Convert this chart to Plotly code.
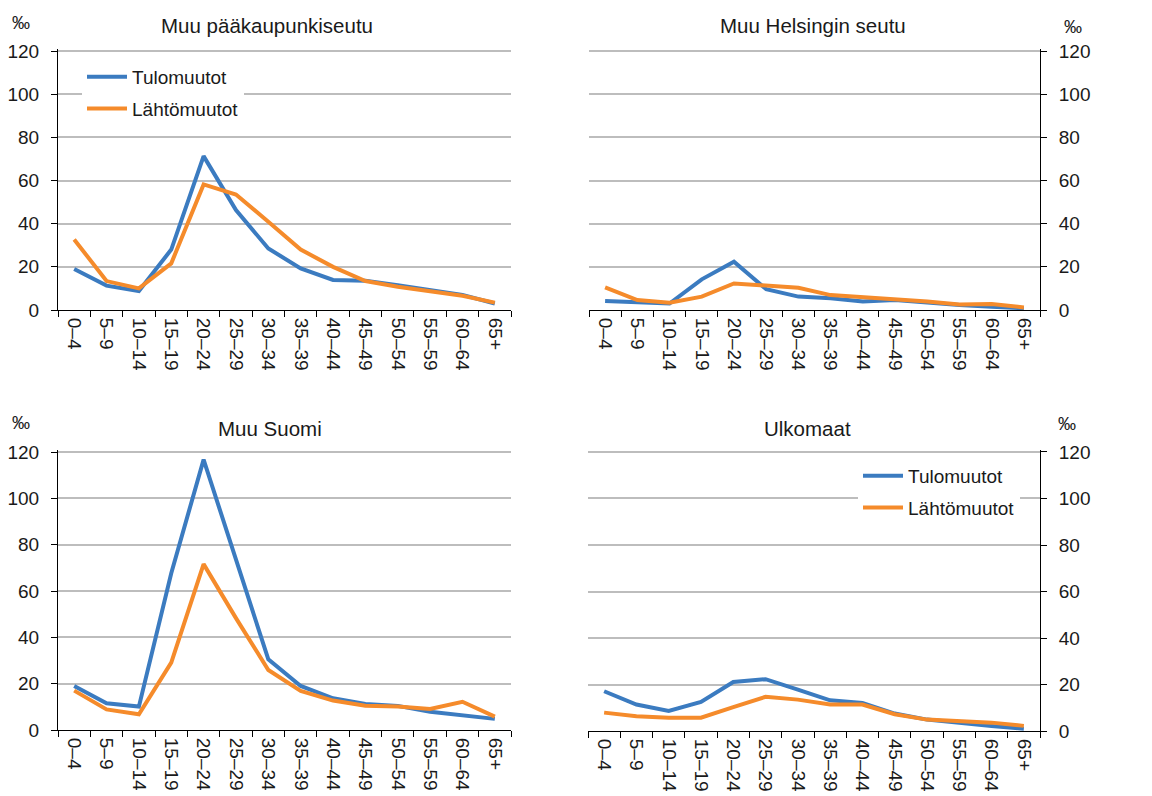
import plotly.graph_objects as go

categories = ["0\u20134", "5\u20139", "10\u201314", "15\u201319", "20\u201324", "25\u201329", "30\u201334",
              "35\u201339", "40\u201344", "45\u201349", "50\u201354", "55\u201359", "60\u201364", "65+"]

titles = ["Muu pääkaupunkiseutu", "Muu Helsingin seutu", "Muu Suomi", "Ulkomaat"]
series_names = ["Tulomuutot", "Lähtömuutot"]

# Muu pääkaupunkiseutu
paak_tulo = [19.0, 11.3, 8.8, 28.0, 71.3, 46.3, 28.5, 19.3, 13.9, 13.6, 11.5, 9.3, 7.0, 3.0]
paak_lahto = [32.7, 13.4, 10.0, 21.6, 58.2, 53.5, 40.9, 28.0, 20.0, 13.4, 10.8, 8.5, 6.6, 3.4]
# Muu Helsingin seutu
hel_tulo = [4.2, 3.5, 3.0, 14.2, 22.4, 9.6, 6.2, 5.4, 3.9, 4.6, 3.4, 2.3, 1.5, 0.8]
hel_lahto = [10.5, 4.6, 3.4, 6.2, 12.3, 11.3, 10.3, 6.9, 5.9, 5.1, 3.9, 2.6, 2.8, 1.2]
# Muu Suomi
suomi_tulo = [19.0, 11.5, 10.1, 67.7, 116.7, 73.5, 30.5, 19.0, 13.7, 11.2, 10.4, 7.9, 6.5, 4.8]
suomi_lahto = [17.0, 8.9, 6.8, 29.1, 71.6, 48.3, 25.9, 16.9, 12.7, 10.5, 10.1, 9.1, 12.2, 5.8]
# Ulkomaat
ulko_tulo = [17.1, 11.4, 8.6, 12.5, 21.1, 22.3, 17.8, 13.2, 12.1, 7.5, 4.9, 3.4, 2.2, 1.0]
ulko_lahto = [7.9, 6.3, 5.7, 5.7, 10.3, 14.7, 13.5, 11.4, 11.4, 7.2, 4.9, 4.2, 3.6, 2.2]

y_ticks = [0, 20, 40, 60, 80, 100, 120]
Y_TOP = 121  # range top slightly above the last tick so its gridline is drawn

BLUE = "#3B7BC0"
ORANGE = "#F58B2B"
FONT = "Liberation Sans, Arial, sans-serif"
TXT = "#1a1a1a"

W, H = 1152, 796

def px_x(p):
    return p / W

def px_y(p):
    return 1 - p / H

panels = [
    (paak_tulo, paak_lahto, "legend"),
    (hel_tulo, hel_lahto, None),
    (suomi_tulo, suomi_lahto, None),
    (ulko_tulo, ulko_lahto, "legend2"),
]

# plot area pixel boxes (left, right, pixel of value 120, pixel of value 0)
boxes = [
    (58, 511, 51, 310),
    (589, 1040, 51, 310),
    (58, 511, 452, 730),
    (588, 1040, 452, 731),
]

fig = go.Figure()

for i, (tulo, lahto, leg) in enumerate(panels):
    n = i + 1
    xa = "x" if n == 1 else f"x{n}"
    ya = "y" if n == 1 else f"y{n}"
    for name, vals, col, grp in [(series_names[0], tulo, BLUE, "a"), (series_names[1], lahto, ORANGE, "b")]:
        kw = dict(x=categories, y=vals, mode="lines", name=name,
                  line=dict(color=col, width=4), xaxis=xa, yaxis=ya,
                  showlegend=leg is not None, legendgroup=f"{grp}{n}", hoverinfo="skip")
        if leg is not None:
            kw["legend"] = leg
        fig.add_trace(go.Scatter(**kw))

layout = dict(
    width=W, height=H, autosize=False,
    margin=dict(l=0, r=0, t=0, b=0, pad=0, autoexpand=False),
    paper_bgcolor="white", plot_bgcolor="white",
    font=dict(family=FONT, size=19, color=TXT),
)

for i, (l, r, t120, b) in enumerate(boxes):
    n = i + 1
    xk = "xaxis" if n == 1 else f"xaxis{n}"
    yk = "yaxis" if n == 1 else f"yaxis{n}"
    xa = "x" if n == 1 else f"x{n}"
    ya = "y" if n == 1 else f"y{n}"
    right = n in (2, 4)
    pxu = (b - t120) / 120.0
    t = b - Y_TOP * pxu
    layout[xk] = dict(
        domain=[px_x(l), px_x(r)], anchor=ya, type="category",
        categoryorder="array", categoryarray=categories,
        range=[-0.5, len(categories) - 0.5], automargin=False,
        showline=True, linecolor="black", linewidth=1,
        ticks="outside", tickson="boundaries", ticklen=6, tickcolor="black",
        tickangle=90, showgrid=False, zeroline=False, ticklabelstandoff=3,
        tickfont=dict(family=FONT, size=19, color=TXT),
    )
    layout[yk] = dict(
        domain=[px_y(b), px_y(t)], anchor=xa, range=[0, Y_TOP], automargin=False,
        tickvals=y_ticks, side="right" if right else "left",
        showline=True, linecolor="black", linewidth=1,
        ticks="outside", ticklen=6, tickcolor="black",
        ticklabelstandoff=8,
        showgrid=True, gridcolor="#bdbdbd", gridwidth=2, zeroline=False,
        tickfont=dict(family=FONT, size=19, color=TXT),
    )

legend_common = dict(
    bgcolor="white", borderwidth=0, font=dict(family=FONT, size=19, color=TXT),
    traceorder="grouped", tracegroupgap=4, itemwidth=40,
    xanchor="left", yanchor="top",
)
layout["legend"] = dict(legend_common, x=px_x(82), y=px_y(58))
layout["legend2"] = dict(legend_common, x=px_x(858), y=px_y(457))

fig.update_layout(**layout)

title_pos = [(267, 26), (813, 26), (270, 428), (807, 428)]
for txt, (x, y) in zip(titles, title_pos):
    fig.add_annotation(x=px_x(x), y=px_y(y), xref="paper", yref="paper", text=txt,
                       showarrow=False, xanchor="center", yanchor="middle",
                       font=dict(family=FONT, size=20.5, color=TXT))

permille_pos = [(21, 23), (1073, 27), (21, 423), (1067, 424)]
for (x, y) in permille_pos:
    fig.add_annotation(x=px_x(x), y=px_y(y), xref="paper", yref="paper", text="\u2030",
                       showarrow=False, xanchor="center", yanchor="middle",
                       font=dict(family=FONT, size=18, color=TXT))

fig.write_html("out.html", config={"displayModeBar": False, "staticPlot": True},
               post_script="document.body.style.margin='0px';document.body.style.overflow='hidden';")
